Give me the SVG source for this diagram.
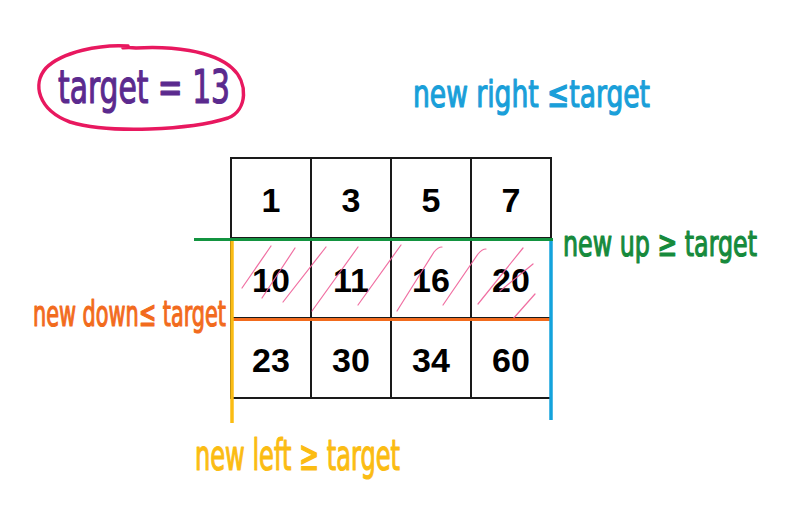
<svg xmlns="http://www.w3.org/2000/svg" width="799" height="520" viewBox="0 0 799 520">
<style>
.cell{fill:#fff;stroke:#1a1a1a;stroke-width:2}
.num{font-family:"Liberation Sans",Arial,sans-serif;font-weight:bold;font-size:34px;fill:#000;text-anchor:middle}
.hand{font-family:"DejaVu Sans Condensed","DejaVu Sans",sans-serif;stroke-width:1.2;stroke-linejoin:round}
.hatch{stroke:#ee5f98;stroke-width:1.2;fill:none;stroke-linecap:round;opacity:0.9}
</style>
<rect width="799" height="520" fill="#fff"/>
<g id="target-label">
<path d="M128,46 C100,44 62,52 46,68 C32,84 38,110 70,122 C110,134 190,130 228,118 C248,110 248,82 232,68 C212,50 170,46 136,48 C124,46 118,50 128,46 Z" fill="none" stroke="#e8185f" stroke-width="3.5" stroke-linejoin="round"/>
<text class="hand" x="58" y="103" font-size="46" fill="#5b2a8e" stroke="#5b2a8e" textLength="172" lengthAdjust="spacingAndGlyphs">target = 13</text>
</g>
<g id="grid">
<g id="c-1"><rect class="cell" x="231" y="158" width="80" height="80"/><text class="num" x="271" y="211.5">1</text></g>
<g id="c-3"><rect class="cell" x="311" y="158" width="80" height="80"/><text class="num" x="351" y="211.5">3</text></g>
<g id="c-5"><rect class="cell" x="391" y="158" width="80" height="80"/><text class="num" x="431" y="211.5">5</text></g>
<g id="c-7"><rect class="cell" x="471" y="158" width="80" height="80"/><text class="num" x="511" y="211.5">7</text></g>
<g id="c-10"><rect class="cell" x="231" y="238" width="80" height="80"/><text class="num" x="271" y="291.5">10</text></g>
<g id="c-11"><rect class="cell" x="311" y="238" width="80" height="80"/><text class="num" x="351" y="291.5">11</text></g>
<g id="c-16"><rect class="cell" x="391" y="238" width="80" height="80"/><text class="num" x="431" y="291.5">16</text></g>
<g id="c-20"><rect class="cell" x="471" y="238" width="80" height="80"/><text class="num" x="511" y="291.5">20</text></g>
<g id="c-23"><rect class="cell" x="231" y="318" width="80" height="80"/><text class="num" x="271" y="371.5">23</text></g>
<g id="c-30"><rect class="cell" x="311" y="318" width="80" height="80"/><text class="num" x="351" y="371.5">30</text></g>
<g id="c-34"><rect class="cell" x="391" y="318" width="80" height="80"/><text class="num" x="431" y="371.5">34</text></g>
<g id="c-60"><rect class="cell" x="471" y="318" width="80" height="80"/><text class="num" x="511" y="371.5">60</text></g>
</g>
<g id="hatching">
<path class="hatch" d="M242,288 L271,246"/>
<path class="hatch" d="M262,298 L295,248"/>
<path class="hatch" d="M283,302 L326,247"/>
<path class="hatch" d="M312,311 L358,247"/>
<path class="hatch" d="M358,305 L401,245"/>
<path class="hatch" d="M397,311 L434,252 Q438,247 442,247"/>
<path class="hatch" d="M443,305 L478,254 Q482,249 486,249"/>
<path class="hatch" d="M478,304 L523,248"/>
<path class="hatch" d="M500,291 L533,264"/>
<path class="hatch" d="M512,320 L535,294"/>
</g>
<g id="connectors" fill="none" stroke-linecap="butt">
<line id="up-line" x1="194" y1="239.5" x2="553" y2="239.5" stroke="#139440" stroke-width="3"/>
<line id="down-line" x1="232" y1="319.5" x2="551" y2="319.5" stroke="#f26b1d" stroke-width="3"/>
<line id="left-line" x1="232" y1="241" x2="232" y2="423" stroke="#fbbc13" stroke-width="3.5"/>
<line id="right-line" x1="551" y1="241" x2="551" y2="420" stroke="#14a3dc" stroke-width="3.5"/>
</g>
<g id="right-label"><text class="hand" x="413" y="107" font-size="38" fill="#1a9fd9" stroke="#1a9fd9" textLength="237" lengthAdjust="spacingAndGlyphs">new right ≤target</text></g>
<g id="up-label"><text class="hand" x="563" y="256" font-size="36" fill="#168a3c" stroke="#168a3c" textLength="194" lengthAdjust="spacingAndGlyphs">new up ≥ target</text></g>
<g id="down-label"><text class="hand" x="33" y="326" font-size="36" fill="#f26b1d" stroke="#f26b1d" textLength="193" lengthAdjust="spacingAndGlyphs">new down≤ target</text></g>
<g id="left-label"><text class="hand" x="195" y="470" font-size="42" fill="#fbbc13" stroke="#fbbc13" textLength="205" lengthAdjust="spacingAndGlyphs">new left ≥ target</text></g>
</svg>
